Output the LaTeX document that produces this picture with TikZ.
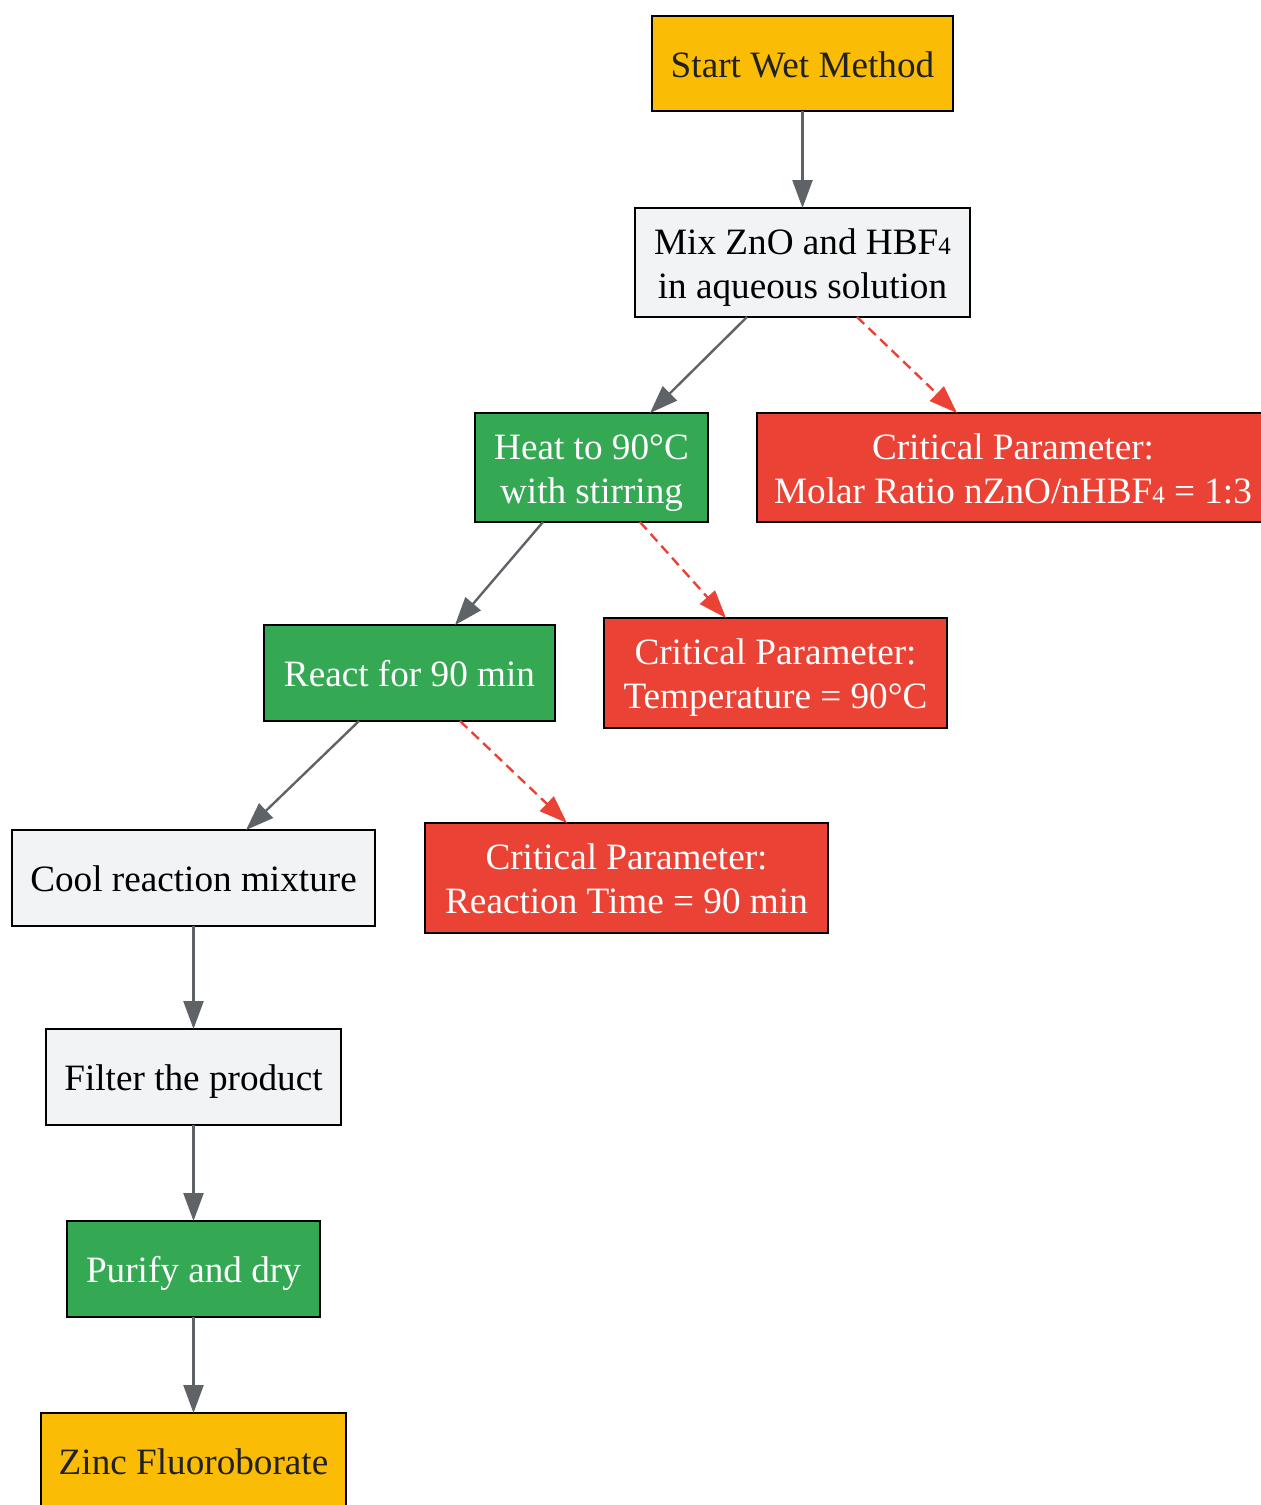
\documentclass[tikz,border=0pt]{standalone}
\usepackage{fontspec}
\setmainfont{Liberation Serif}
\usetikzlibrary{arrows.meta,calc}
\definecolor{cyellow}{HTML}{FBBC05}
\definecolor{cgray}{HTML}{F1F3F4}
\definecolor{cgreen}{HTML}{34A853}
\definecolor{cred}{HTML}{EA4335}
\definecolor{ctext}{HTML}{202124}
\definecolor{carrow}{HTML}{5F6368}
\newcommand{\subfour}{{\fontsize{12.5}{12}\selectfont 4}}
\newcommand{\bt}[1]{\raisebox{-2.35pt}[\height][\depth]{\begin{tabular}{@{}c@{}}#1\end{tabular}}}
\tikzset{
  box/.style={draw=black, line width=1pt, rectangle, outer sep=0pt, inner sep=0pt,
    font=\fontsize{18.6}{22}\selectfont},
  yel/.style={box, fill=cyellow, text=ctext},
  gry/.style={box, fill=cgray, text=black},
  grn/.style={box, fill=cgreen, text=white},
  crit/.style={box, fill=cred, text=white},
  flow/.style={draw=carrow, line width=1.2pt, -{Triangle[length=14pt,width=10pt]}},
  critarrow/.style={draw=cred, line width=1.2pt, dash pattern=on 5pt off 3pt, -{Triangle[length=14pt,width=10pt,fill=cred,sep=0pt]}},
}
\begin{document}
\begin{tikzpicture}[x=0.5pt,y=-0.5pt]
\useasboundingbox (0,0) rectangle (1260,1505);
\node[yel, minimum width=150.5pt, minimum height=47.5pt] (start) at (802.5,63.5) {\bt{Start Wet Method}};
\node[gry, minimum width=167.5pt, minimum height=54.5pt] (mix) at (802.5,262.5) {\bt{Mix ZnO and HBF\subfour\\in aqueous solution}};
\node[grn, minimum width=116.5pt, minimum height=54.5pt] (heat) at (591.5,467.5) {\bt{Heat to 90°C\\with stirring}};
\node[crit, minimum width=256pt, minimum height=54.5pt] (molar) at (1013,467.5) {\bt{Critical Parameter:\\Molar Ratio nZnO/nHBF\subfour{} = 1:3}};
\node[grn, minimum width=145.5pt, minimum height=48pt] (react) at (409.5,673) {\bt{React for 90 min}};
\node[crit, minimum width=171.5pt, minimum height=55pt] (temp) at (775.5,673) {\bt{Critical Parameter:\\Temperature = 90°C}};
\node[gry, minimum width=181.5pt, minimum height=48pt] (cool) at (193.5,878) {\bt{Cool reaction mixture}};
\node[crit, minimum width=201.5pt, minimum height=55pt] (time) at (626.5,878) {\bt{Critical Parameter:\\Reaction Time = 90 min}};
\node[gry, minimum width=147.5pt, minimum height=48pt] (filter) at (193.5,1077) {\bt{Filter the product}};
\node[grn, minimum width=126.5pt, minimum height=48pt] (purify) at (193.5,1269) {\bt{Purify and dry}};
\node[yel, minimum width=152.5pt, minimum height=48pt] (zinc) at (193.5,1461) {\bt{Zinc Fluoroborate}};
\draw[flow] (start.south) -- (mix.north);
\draw[flow] ($(mix.south)+(-55.5,0)$) -- ($(heat.north)+(58.5,0)$);
\draw[critarrow] ($(mix.south)+(54.5,0)$) -- ($(molar.north)+(-56,0)$);
\draw[flow] ($(heat.south)+(-48.5,0)$) -- ($(react.north)+(45.5,0)$);
\draw[critarrow] ($(heat.south)+(48.5,0)$) -- ($(temp.north)+(-49.5,0)$);
\draw[flow] ($(react.south)+(-50.5,0)$) -- ($(cool.north)+(52.5,0)$);
\draw[critarrow] ($(react.south)+(50.5,0)$) -- ($(time.north)+(-59.5,0)$);
\draw[flow] (cool.south) -- (filter.north);
\draw[flow] (filter.south) -- (purify.north);
\draw[flow] (purify.south) -- (zinc.north);
\end{tikzpicture}
\end{document}
